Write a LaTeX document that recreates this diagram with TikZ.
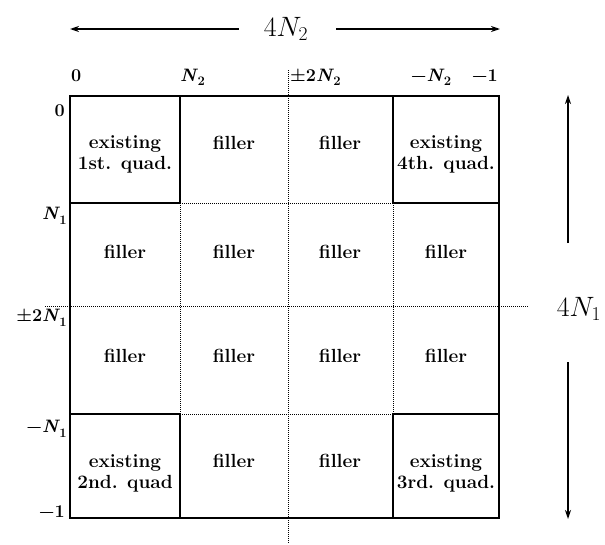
\RequirePackage{fix-cm}
\documentclass[tikz,border=0pt]{standalone}
\usepackage{fontspec}
\usetikzlibrary{arrows.meta}
\newcommand{\NN}[1]{\textit{N}\kern-0.04em\raisebox{-0.26em}{\fontsize{13}{13}\selectfont #1}}
\begin{document}
\begin{tikzpicture}[x=1pt,y=-1pt,
  solidl/.style={line width=1.7pt, line cap=rect},
  dotl/.style={line width=1pt, dash pattern=on 1pt off 1pt},
  celltxt/.style={font=\fontsize{19}{21}\selectfont\bfseries, align=center, inner sep=0pt, anchor=base},
  axlab/.style={font=\fontsize{18}{20}\selectfont\bfseries, inner sep=0pt},
  biglab/.style={font=\fontsize{28}{30}\selectfont, inner sep=0pt},
  arr/.style={line width=1.4pt, -{Stealth[length=9pt,width=6pt]}}]
\useasboundingbox (0,0) rectangle (605,544);
% grid coordinates
\coordinate (a0) at (70,96);   \coordinate (a1) at (180,96);  \coordinate (a3) at (393,96);  \coordinate (a4) at (499,96);
\coordinate (b0) at (70,203);  \coordinate (b1) at (180,203); \coordinate (b3) at (393,203); \coordinate (b4) at (499,203);
\coordinate (d0) at (70,414);  \coordinate (d1) at (180,414); \coordinate (d3) at (393,414); \coordinate (d4) at (499,414);
\coordinate (e0) at (70,518);  \coordinate (e1) at (180,518); \coordinate (e3) at (393,518); \coordinate (e4) at (499,518);
\coordinate (vt) at (288,70);  \coordinate (vb) at (288,544);
\coordinate (hl) at (45,306);  \coordinate (hr) at (528,306);
% outer box and corner cells
\draw[solidl] (a0) rectangle (e4);
\draw[solidl] (b0) -- (b1) -- (a1);
\draw[solidl] (a3) -- (b3) -- (b4);
\draw[solidl] (d0) -- (d1) -- (e1);
\draw[solidl] (d4) -- (d3) -- (e3);
% dotted inner lines
\draw[dotl] (b1) -- (b3);
\draw[dotl] (d1) -- (d3);
\draw[dotl] (b1) -- (d1);
\draw[dotl] (b3) -- (d3);
\draw[dotl] (vt) -- (vb);
\draw[dotl] (hl) -- (hr);
% cell texts
\node[celltxt] (c11) at (125,169) {existing\\1st. quad.};
\node[celltxt] (c12) at (234,149) {filler};
\node[celltxt] (c13) at (340,149) {filler};
\node[celltxt] (c14) at (446,169) {existing\\4th. quad.};
\node[celltxt] (c21) at (125,258) {filler};
\node[celltxt] (c22) at (234,258) {filler};
\node[celltxt] (c23) at (340,258) {filler};
\node[celltxt] (c24) at (446,258) {filler};
\node[celltxt] (c31) at (125,362) {filler};
\node[celltxt] (c32) at (234,362) {filler};
\node[celltxt] (c33) at (340,362) {filler};
\node[celltxt] (c34) at (446,362) {filler};
\node[celltxt] (c41) at (125,488) {existing\\2nd. quad};
\node[celltxt] (c42) at (234,467) {filler};
\node[celltxt] (c43) at (340,467) {filler};
\node[celltxt] (c44) at (446,488) {existing\\3rd. quad.};
% top axis labels
\node[axlab, anchor=base west] (t0) at (71,81) {0};
\node[axlab, anchor=base west] (t1) at (180,81) {\NN{2}};
\node[axlab, anchor=base west] (t2) at (290,81) {±2\NN{2}};
\node[axlab, anchor=base] (t3) at (431,81) {−\NN{2}};
\node[axlab, anchor=base east] (t4) at (498,81) {−1};
% left axis labels
\node[axlab, anchor=north east] (l0) at (65,104) {0};
\node[axlab, anchor=north east] (l1) at (67,207) {\NN{1}};
\node[axlab, anchor=north east] (l2) at (67,309) {±2\NN{1}};
\node[axlab, anchor=north east] (l3) at (67,420) {−\NN{1}};
\node[axlab, anchor=south east] (l4) at (65,518) {−1};
% dimension arrows
\node[biglab] (w) at (286,29) {$4N_2$};
\coordinate (wl) at (70,29);
\coordinate (wr) at (500,29);
\draw[arr, shorten <=25pt] (w.west) -- (wl);
\draw[arr, shorten <=28pt] (w.east) -- (wr);
\node[biglab] (h) at (579,309) {$4N_1$};
\coordinate (ht) at (568,95);
\coordinate (hb) at (568,519);
\coordinate (hm1) at (568,243);
\coordinate (hm2) at (568,362);
\draw[arr] (hm1) -- (ht);
\draw[arr] (hm2) -- (hb);
\end{tikzpicture}
\end{document}
